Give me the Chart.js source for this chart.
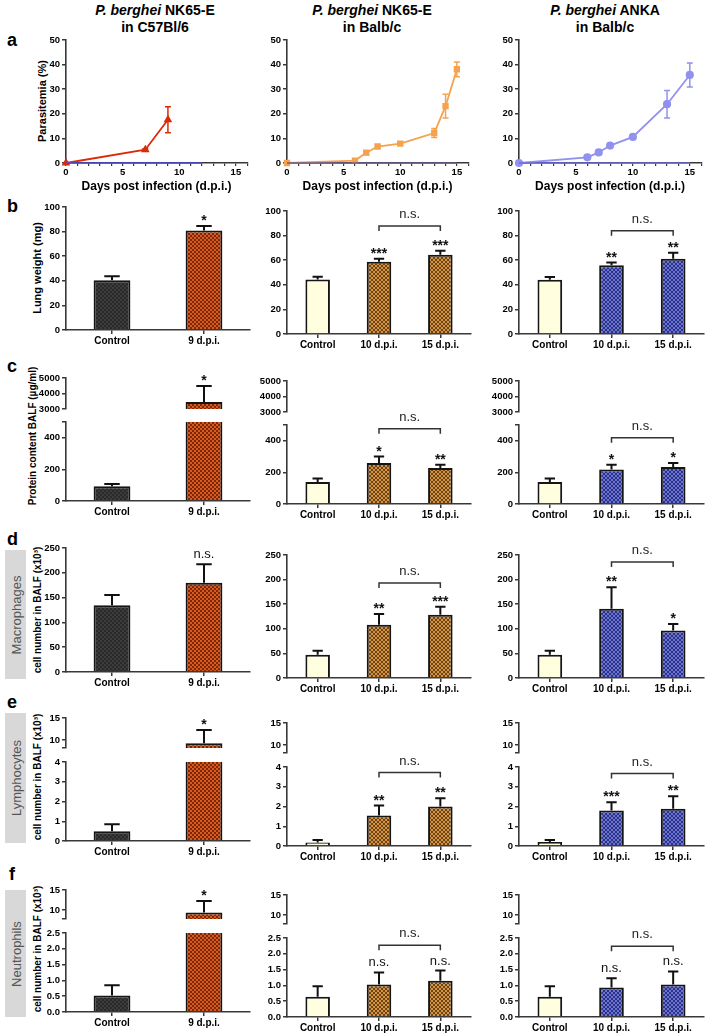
<!DOCTYPE html>
<html>
<head>
<meta charset="utf-8">
<script src="https://cdn.jsdelivr.net/npm/chart.js@4.4.1/dist/chart.umd.min.js"></script>
<style>
  body { margin: 0; width: 707px; height: 1035px; position: relative; background: #fff; overflow: hidden;
         font-family: "Liberation Sans", Arial, sans-serif; }
  canvas { position: absolute; }
  .hd { position: absolute; transform: translateX(-50%); text-align: center; font-weight: bold; font-size: 14px; line-height: 17px; white-space: nowrap; color: #000; }
  .lt { position: absolute; font-weight: bold; font-size: 18px; color: #000; }
  .yt { position: absolute; transform: translate(-50%, -50%) rotate(-90deg); white-space: nowrap; font-weight: bold; font-size: 11px; color: #000;
        font-family: "Liberation Sans Narrow", "Liberation Sans", Arial, sans-serif; }
  .box { position: absolute; background: #d8d8d8; }
  .box span { position: absolute; left: 50%; top: 50%; transform: translate(-50%, -50%) rotate(-90deg); white-space: nowrap; font-size: 13px; color: #555; }
</style>
</head>
<body>
<div class="hd" style="left:155px;top:2px"><i>P. berghei</i> NK65-E<br>in C57Bl/6</div>
<div class="hd" style="left:372px;top:2px"><i>P. berghei</i> NK65-E<br>in Balb/c</div>
<div class="hd" style="left:605px;top:2px"><i>P. berghei</i> ANKA<br>in Balb/c</div>

<div class="lt" style="left:7px;top:30px">a</div>
<div class="lt" style="left:7px;top:196px">b</div>
<div class="lt" style="left:7px;top:356px">c</div>
<div class="lt" style="left:7px;top:529px">d</div>
<div class="lt" style="left:7px;top:692px">e</div>
<div class="lt" style="left:9px;top:864px">f</div>

<div class="yt" style="left:42px;top:101px">Parasitemia (%)</div>
<div class="yt" style="left:37px;top:268px">Lung weight (mg)</div>
<div class="yt" style="left:32px;top:436px;font-size:10px">Protein content BALF (µg/ml)</div>
<div class="yt" style="left:37px;top:610px;font-size:10px">cell number in BALF (x10³)</div>
<div class="yt" style="left:37px;top:777px;font-size:10px">cell number in BALF (x10³)</div>
<div class="yt" style="left:37px;top:949px;font-size:10px">cell number in BALF (x10³)</div>

<div class="box" style="left:5px;top:550px;width:21px;height:129px"><span>Macrophages</span></div>
<div class="box" style="left:5px;top:713px;width:21px;height:130px"><span>Lymphocytes</span></div>
<div class="box" style="left:5px;top:890px;width:21px;height:127px"><span>Neutrophils</span></div>

<script>
// ---- panel a: parasitemia (%) by day
const daysC57 = [0, 7, 9];
const paraC57 = [0, 5.4, 17.6];
const paraC57Err = [0, 0.4, 5.3];
const ctrlDaysC57 = [0, 7, 9, 12];

const daysNK = [0, 6, 7, 8, 10, 13, 14, 15];
const paraNK = [0, 1.0, 4.2, 6.7, 7.9, 12.2, 23.1, 38.1];
const paraNKErr = [0, 0.3, 0.8, 0.6, 0.6, 1.8, 4.8, 3.0];

const daysANKA = [0, 6, 7, 8, 10, 13, 15];
const paraANKA = [0, 2.3, 4.3, 7.1, 10.6, 23.9, 35.8];
const paraANKAErr = [0, 0.4, 0.5, 0.6, 0.5, 5.6, 4.9];
const ctrlDaysBalb = [0, 6, 7, 8, 10, 13, 14, 15];

// ---- bar panels
const catsC57 = ['Control', '9 d.p.i.'];
const catsBalb = ['Control', '10 d.p.i.', '15 d.p.i.'];

const lungC57 = [40.5, 80.8], lungC57Err = [3.2, 3.8], lungC57Sig = ['', '*'];
const lungNK = [44.3, 58.8, 64.5], lungNKErr = [2.2, 2.4, 3.2], lungNKSig = ['', '***', '***'];
const lungANKA = [44.1, 55.8, 61.2], lungANKAErr = [2.2, 2.3, 4.8], lungANKASig = ['', '**', '**'];

const protC57 = [94, 3455], protC57Err = [14, 1030], protC57Sig = ['', '*'];
const protNK = [139, 259, 228], protNKErr = [23, 41, 21], protNKSig = ['', '*', '**'];
const protANKA = [139, 218, 234], protANKAErr = [23, 31, 25], protANKASig = ['', '*', '*'];

const macC57 = [134.5, 180], macC57Err = [20.5, 37], macC57Sig = ['', 'n.s.'];
const macNK = [47.3, 108, 128.4], macNKErr = [8, 22, 16.6], macNKSig = ['', '**', '***'];
const macANKA = [47.3, 140.5, 96.6], macANKAErr = [8, 44, 13], macANKASig = ['', '**', '*'];

const lymC57 = [0.5, 9.3], lymC57Err = [0.35, 3.0], lymC57Sig = ['', '*'];
const lymNK = [0.18, 1.55, 2.0], lymNKErr = [0.12, 0.5, 0.42], lymNKSig = ['', '**', '**'];
const lymANKA = [0.2, 1.8, 1.88], lymANKAErr = [0.1, 0.42, 0.64], lymANKASig = ['', '***', '**'];

const neuC57 = [0.52, 9.4], neuC57Err = [0.33, 2.9], neuC57Sig = ['', '*'];
const neuNK = [0.64, 1.03, 1.15], neuNKErr = [0.33, 0.38, 0.32], neuNKSig = ['', 'n.s.', 'n.s.'];
const neuANKA = [0.64, 0.93, 1.03], neuANKAErr = [0.33, 0.3, 0.41], neuANKASig = ['', 'n.s.', 'n.s.'];

// n.s. bracket heights (10 vs 15 d.p.i.)
const bracketLung = [87.8, 84];
const bracketProt = [477, 420];
const bracketMac = [193, 236];
const bracketLym = [3.72, 3.67];
const bracketNeu = [2.27, 2.24];

// y ticks
const ticksPara = [0, 10, 20, 30, 40, 50];
const ticksLung = [0, 20, 40, 60, 80, 100];
const ticksProtHi = [3000, 4000, 5000], ticksProtLo = [0, 200, 400];
const ticksMac = [0, 50, 100, 150, 200, 250];
const ticksCellHi = [10, 15];
const ticksLymLo = [0, 1, 2, 3, 4];
const ticksNeuLo = [0, 0.5, 1, 1.5, 2, 2.5];
const ticksDays = [0, 5, 10, 15];

// ---- drawing
const NARROW = '"Liberation Sans Narrow", "Liberation Sans", Arial, sans-serif';
const tickFont = { family: NARROW, size: 9.5, weight: 'bold' };
const catFont = { family: NARROW, size: 10, weight: 'bold' };
const AXIS = '#383838';
const YW = 34;
const colX = [[66, 250], [287, 471], [519, 704]];
const area = (c, t, b) => ({ l: colX[c][0], r: colX[c][1], t, b });

function checks(a, b, s) {
  const c = document.createElement('canvas');
  c.width = c.height = s * 2;
  const x = c.getContext('2d');
  x.fillStyle = a; x.fillRect(0, 0, s * 2, s * 2);
  x.fillStyle = b; x.fillRect(0, 0, s, s); x.fillRect(s, s, s, s);
  return x.createPattern(c, 'repeat');
}
const fillC57 = [checks('#3c3c3c', '#2a2a2a', 2), checks('#d85a1e', '#7c2806', 2)];
const brownChk = checks('#d39443', '#6e4414', 2);
const blueChk = checks('#6b73d2', '#2c3286', 2);
const fillNK = ['#ffffe0', brownChk, brownChk];
const fillANKA = ['#ffffe0', blueChk, blueChk];

function canvasFor(a, top, bottom, right) {
  const c = document.createElement('canvas');
  const w = a.r - a.l + YW + right, h = a.b - a.t + top + bottom;
  c.width = w; c.height = h;
  c.style.left = (a.l - YW) + 'px'; c.style.top = (a.t - top) + 'px';
  c.style.width = w + 'px'; c.style.height = h + 'px';
  document.body.appendChild(c);
  return c;
}

function marksPlugin(bracket) {
  return {
    id: 'marks',
    afterDatasetsDraw(chart) {
      const { ctx, chartArea: ca } = chart;
      const ys = chart.scales.y, xs = chart.scales.x;
      chart.data.datasets.forEach((ds, di) => {
        if (!ds.errors) return;
        const meta = chart.getDatasetMeta(di);
        ctx.save();
        ctx.beginPath(); ctx.rect(ca.left - 20, ca.top - 1, ca.width + 40, ca.height + 2); ctx.clip();
        ctx.strokeStyle = ds.errColor || '#111';
        ctx.lineWidth = ds.errWidth || 2;
        meta.data.forEach((el, i) => {
          const v = ds.data[i], val = typeof v === 'object' ? v.y : v, e = ds.errors[i];
          if (!e) return;
          const y0 = ys.getPixelForValue(ds.bothWays ? val - e : val);
          const y1 = ys.getPixelForValue(val + e);
          const cap = ds.cap || el.width * 0.42;
          ctx.beginPath();
          ctx.moveTo(el.x, y0); ctx.lineTo(el.x, y1);
          ctx.moveTo(el.x - cap / 2, y1); ctx.lineTo(el.x + cap / 2, y1);
          if (ds.bothWays) { ctx.moveTo(el.x - cap / 2, y0); ctx.lineTo(el.x + cap / 2, y0); }
          ctx.stroke();
        });
        ctx.restore();
        if (!ds.sig) return;
        ctx.save();
        ctx.fillStyle = '#111'; ctx.textAlign = 'center'; ctx.textBaseline = 'alphabetic';
        meta.data.forEach((el, i) => {
          const s = ds.sig[i];
          if (!s) return;
          const topv = ds.data[i] + ds.errors[i];
          if (topv < ys.min || topv > ys.max) return;
          const ns = s === 'n.s.';
          ctx.font = (ns ? '' : 'bold ') + (ns ? '13px ' : '14px ') + NARROW;
          ctx.fillText(s, el.x, ys.getPixelForValue(topv) - (ns ? 6 : 1));
        });
        ctx.restore();
      });
      if (bracket != null) {
        const x1 = xs.getPixelForValue(1), x2 = xs.getPixelForValue(2), y = ys.getPixelForValue(bracket);
        ctx.save();
        ctx.strokeStyle = '#333'; ctx.lineWidth = 1.5;
        ctx.beginPath();
        ctx.moveTo(x1, y + 5); ctx.lineTo(x1, y); ctx.lineTo(x2, y); ctx.lineTo(x2, y + 5);
        ctx.stroke();
        ctx.fillStyle = '#222'; ctx.textAlign = 'center'; ctx.textBaseline = 'alphabetic';
        ctx.font = '13px ' + NARROW;
        ctx.fillText('n.s.', (x1 + x2) / 2, y - 8);
        ctx.restore();
      }
    }
  };
}

function yScale(min, max, labeled, marks, dec) {
  return {
    min, max,
    grid: { drawOnChartArea: false, tickLength: 4, color: AXIS, lineWidth: 1.5 },
    border: { color: AXIS, width: 1.6 },
    ticks: { font: tickFont, color: '#000', padding: 2,
             callback: v => labeled.includes(v) ? (dec ? v.toFixed(1) : String(v)) : '' },
    afterBuildTicks: s => { s.ticks = marks.map(v => ({ value: v })); },
    afterFit: s => { s.width = YW; }
  };
}

function barChart(a, cats, vals, errs, sigs, fills, y, opt) {
  opt = opt || {};
  const showX = opt.showX !== false;
  const top = opt.top != null ? opt.top : 30;
  const bottom = showX ? 20 : 4, right = 3;
  const cv = canvasFor(a, top, bottom, right);
  return new Chart(cv, {
    type: 'bar',
    data: { labels: cats, datasets: [{
      data: vals, errors: errs, sig: sigs, backgroundColor: fills,
      borderColor: '#151515', borderWidth: 2, borderSkipped: 'start',
      barPercentage: 0.4, categoryPercentage: 1
    }] },
    options: {
      responsive: false, animation: false, events: [],
      layout: { padding: { top, right, left: 0, bottom: showX ? 0 : bottom } },
      plugins: { legend: { display: false }, tooltip: { enabled: false } },
      scales: {
        x: { display: showX,
             grid: { drawOnChartArea: false, offset: false, tickLength: 4, color: AXIS, lineWidth: 1.5 },
             border: { color: AXIS, width: 1.6 },
             ticks: { font: catFont, color: '#000', padding: 1, maxRotation: 0, autoSkip: false },
             afterFit: s => { s.height = bottom; } },
        y: y
      }
    },
    plugins: [marksPlugin(opt.bracket)]
  });
}

function lineChart(a, days, vals, errs, color, style, ctrlDays, ctrlColor) {
  const top = 8, bottom = 34, right = 3;
  const cv = canvasFor(a, top, bottom, right);
  return new Chart(cv, {
    type: 'scatter',
    data: { datasets: [
      { data: ctrlDays.map(d => ({ x: d, y: 0 })), showLine: true, borderColor: ctrlColor, borderWidth: 1.5,
        pointRadius: 0, clip: false },
      { data: days.map((d, i) => ({ x: d, y: vals[i] })), errors: errs, bothWays: true, cap: 6,
        errColor: color, errWidth: 1.5, showLine: true, borderColor: color, backgroundColor: color,
        borderWidth: 1.8, pointStyle: style, pointRadius: 3.2, clip: false }
    ] },
    options: {
      responsive: false, animation: false, events: [],
      layout: { padding: { top, right, left: 0, bottom: 0 } },
      plugins: { legend: { display: false }, tooltip: { enabled: false } },
      scales: {
        x: { type: 'linear', min: 0, max: 16,
             grid: { drawOnChartArea: false, tickLength: 3, color: AXIS, lineWidth: 1.2 },
             border: { color: AXIS, width: 1.6 },
             ticks: { stepSize: 1, autoSkip: false, maxRotation: 0, font: tickFont, color: '#000', padding: 1,
                      callback: v => ticksDays.includes(v) ? String(v) : '' },
             title: { display: true, text: 'Days post infection (d.p.i.)', color: '#000',
                      font: { family: NARROW, size: 12, weight: 'bold' }, padding: { top: 2, bottom: 3 } },
             afterFit: s => { s.height = bottom; } },
        y: yScale(0, 50, ticksPara, ticksPara, false)
      }
    },
    plugins: [marksPlugin(null)]
  });
}

// row a
lineChart(area(0, 40, 163), daysC57, paraC57, paraC57Err, '#dc2a06', 'triangle', ctrlDaysC57, '#4a4ad8');
lineChart(area(1, 40, 163), daysNK, paraNK, paraNKErr, '#f5a24e', 'rect', ctrlDaysBalb, '#6a5a8a');
lineChart(area(2, 40, 163), daysANKA, paraANKA, paraANKAErr, '#9191ee', 'circle', ctrlDaysBalb, '#6a6ae0');

// row b
barChart(area(0, 207, 330), catsC57, lungC57, lungC57Err, lungC57Sig, fillC57, yScale(0, 100, ticksLung, ticksLung));
barChart(area(1, 211, 334), catsBalb, lungNK, lungNKErr, lungNKSig, fillNK, yScale(0, 100, ticksLung, ticksLung), { bracket: bracketLung[0] });
barChart(area(2, 211, 334), catsBalb, lungANKA, lungANKAErr, lungANKASig, fillANKA, yScale(0, 100, ticksLung, ticksLung), { bracket: bracketLung[1] });

// row c (broken axis)
barChart(area(0, 378, 413), catsC57, protC57, protC57Err, protC57Sig, fillC57, yScale(3000, 5000, ticksProtHi, ticksProtHi), { showX: false });
barChart(area(0, 422, 501), catsC57, protC57, protC57Err, protC57Sig, fillC57, yScale(0, 500, ticksProtLo, ticksProtLo.concat([500])), { top: 8 });
barChart(area(1, 381, 416), catsBalb, protNK, protNKErr, protNKSig, fillNK, yScale(3000, 5000, ticksProtHi, ticksProtHi), { showX: false });
barChart(area(1, 425, 504), catsBalb, protNK, protNKErr, protNKSig, fillNK, yScale(0, 500, ticksProtLo, ticksProtLo.concat([500])), { top: 30, bracket: bracketProt[0] });
barChart(area(2, 381, 416), catsBalb, protANKA, protANKAErr, protANKASig, fillANKA, yScale(3000, 5000, ticksProtHi, ticksProtHi), { showX: false });
barChart(area(2, 425, 504), catsBalb, protANKA, protANKAErr, protANKASig, fillANKA, yScale(0, 500, ticksProtLo, ticksProtLo.concat([500])), { top: 30, bracket: bracketProt[1] });

// row d
barChart(area(0, 548, 672), catsC57, macC57, macC57Err, macC57Sig, fillC57, yScale(0, 250, ticksMac, ticksMac));
barChart(area(1, 555, 678), catsBalb, macNK, macNKErr, macNKSig, fillNK, yScale(0, 250, ticksMac, ticksMac), { bracket: bracketMac[0] });
barChart(area(2, 555, 678), catsBalb, macANKA, macANKAErr, macANKASig, fillANKA, yScale(0, 250, ticksMac, ticksMac), { bracket: bracketMac[1] });

// row e (broken axis)
barChart(area(0, 718, 752), catsC57, lymC57, lymC57Err, lymC57Sig, fillC57, yScale(8.2, 15, ticksCellHi, [8.2].concat(ticksCellHi)), { showX: false });
barChart(area(0, 762, 841), catsC57, lymC57, lymC57Err, lymC57Sig, fillC57, yScale(0, 4, ticksLymLo, ticksLymLo), { top: 8 });
barChart(area(1, 723, 757), catsBalb, lymNK, lymNKErr, lymNKSig, fillNK, yScale(8.2, 15, ticksCellHi, [8.2].concat(ticksCellHi)), { showX: false });
barChart(area(1, 767, 846), catsBalb, lymNK, lymNKErr, lymNKSig, fillNK, yScale(0, 4, ticksLymLo, ticksLymLo), { top: 30, bracket: bracketLym[0] });
barChart(area(2, 723, 757), catsBalb, lymANKA, lymANKAErr, lymANKASig, fillANKA, yScale(8.2, 15, ticksCellHi, [8.2].concat(ticksCellHi)), { showX: false });
barChart(area(2, 767, 846), catsBalb, lymANKA, lymANKAErr, lymANKASig, fillANKA, yScale(0, 4, ticksLymLo, ticksLymLo), { top: 30, bracket: bracketLym[1] });

// row f (broken axis)
barChart(area(0, 890, 923), catsC57, neuC57, neuC57Err, neuC57Sig, fillC57, yScale(7.8, 15, ticksCellHi, [7.8].concat(ticksCellHi)), { showX: false });
barChart(area(0, 933, 1012), catsC57, neuC57, neuC57Err, neuC57Sig, fillC57, yScale(0, 2.5, ticksNeuLo, ticksNeuLo, true), { top: 8 });
barChart(area(1, 895, 928), catsBalb, neuNK, neuNKErr, neuNKSig, fillNK, yScale(7.8, 15, ticksCellHi, [7.8].concat(ticksCellHi)), { showX: false });
barChart(area(1, 938, 1017), catsBalb, neuNK, neuNKErr, neuNKSig, fillNK, yScale(0, 2.5, ticksNeuLo, ticksNeuLo, true), { top: 30, bracket: bracketNeu[0] });
barChart(area(2, 895, 928), catsBalb, neuANKA, neuANKAErr, neuANKASig, fillANKA, yScale(7.8, 15, ticksCellHi, [7.8].concat(ticksCellHi)), { showX: false });
barChart(area(2, 938, 1017), catsBalb, neuANKA, neuANKAErr, neuANKASig, fillANKA, yScale(0, 2.5, ticksNeuLo, ticksNeuLo, true), { top: 30, bracket: bracketNeu[1] });
</script>
</body>
</html>
